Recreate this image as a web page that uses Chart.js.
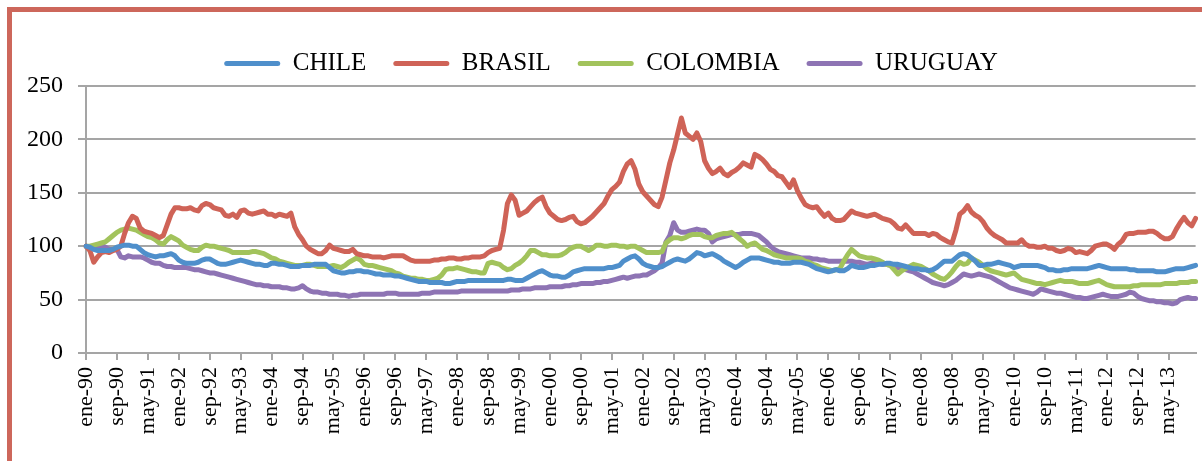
<!DOCTYPE html>
<html>
<head>
<meta charset="utf-8">
<title>Tipo de cambio real</title>
<script src="https://cdn.jsdelivr.net/npm/chart.js"></script>
<style>
  html, body { margin: 0; padding: 0; background: #fff; overflow: hidden; }
  #wrap { position: relative; width: 1202px; height: 461px; overflow: hidden; }
  #frame { position: absolute; left: 7px; top: 7px; width: 1400px; height: 600px; border: 5px solid #cd675b; box-sizing: border-box; }
  #chart { position: absolute; left: 0; top: 0; }
</style>
</head>
<body>
<div id="wrap">
  <div id="frame"></div>
  <canvas id="chart" width="1202" height="461"></canvas>
</div>
<script>
const months = ['ene', 'feb', 'mar', 'abr', 'may', 'jun', 'jul', 'ago', 'sep', 'oct', 'nov', 'dic'];
const years = ['90', '91', '92', '93', '94', '95', '96', '97', '98', '99', '00', '01',
               '02', '03', '04', '05', '06', '07', '08', '09', '10', '11', '12', '13'];
const labels = [];
years.forEach(y => months.forEach(m => labels.push(m + '-' + y)));

const yTicks = [0, 50, 100, 150, 200, 250];

// one row per year, ene..dic
const chile = [
  100, 99, 97, 96, 96, 96, 96, 97, 99, 100, 101, 101,
  100, 100, 97, 94, 92, 91, 90, 91, 91, 92, 93, 91,
  87, 85, 84, 84, 84, 85, 87, 88, 88, 86, 84, 83,
  83, 84, 85, 86, 87, 86, 85, 84, 83, 83, 82, 82,
  84, 84, 83, 83, 82, 81, 81, 81, 82, 82, 82, 83,
  83, 83, 83, 80, 77, 76, 75, 75, 76, 76, 77, 77,
  76, 76, 75, 74, 74, 73, 73, 73, 72, 72, 71, 70,
  69, 68, 67, 67, 67, 66, 66, 66, 66, 65, 65, 66,
  67, 67, 67, 68, 68, 68, 68, 68, 68, 68, 68, 68,
  68, 69, 69, 68, 68, 68, 70, 72, 74, 76, 77, 75,
  73, 72, 72, 71, 71, 73, 76, 77, 78, 79, 79, 79,
  79, 79, 79, 80, 80, 81, 82, 86, 88, 90, 91, 88,
  84, 82, 81, 80, 80, 81, 83, 85, 87, 88, 87, 86,
  88, 91, 94, 93, 91, 92, 93, 91, 89, 86, 84, 82,
  80, 82, 85, 87, 89, 89, 89, 88, 87, 86, 85, 85,
  84, 84, 84, 85, 85, 85, 84, 83, 81, 79, 78, 77,
  76, 77, 78, 77, 77, 79, 82, 81, 80, 80, 81, 82,
  82, 83, 83, 84, 84, 83, 83, 82, 81, 80, 79, 79,
  78, 78, 77, 78, 80, 83, 86, 86, 86, 89, 92, 93,
  92, 89, 86, 82, 82, 83, 83, 84, 85, 84, 83, 82,
  80, 81, 82, 82, 82, 82, 82, 81, 80, 78, 78, 77,
  77, 78, 78, 79, 79, 79, 79, 79, 80, 81, 82, 81,
  80, 79, 79, 79, 79, 79, 78, 78, 77, 77, 77, 77,
  77, 76, 76, 76, 77, 78, 79, 79, 79, 80, 81, 82
];

const brasil = [
  100, 96, 85, 90, 94, 95, 94, 96, 97, 100, 112, 122,
  128, 126, 117, 114, 113, 112, 110, 108, 110, 120, 130, 136,
  136, 135, 135, 136, 134, 133, 138, 140, 139, 136, 135, 134,
  129, 128, 130, 127, 133, 134, 131, 130, 131, 132, 133, 130,
  130, 128, 130, 129, 128, 131, 118, 111, 106, 100, 97, 95,
  93, 93, 96, 101, 98, 97, 96, 95, 95, 97, 93, 92,
  91, 91, 90, 90, 90, 89, 90, 91, 91, 91, 91, 89,
  87, 86, 86, 86, 86, 86, 87, 87, 88, 88, 89, 89,
  88, 88, 89, 89, 90, 90, 90, 91, 94, 96, 97, 98,
  115, 140, 148, 143, 129, 131, 133, 137, 141, 144, 146, 137,
  131, 128, 125, 124, 125, 127, 128, 123, 121, 122, 125, 128,
  132, 136, 140, 147, 153, 156, 160, 170, 177, 180, 172, 158,
  151, 147, 143, 139, 137, 146, 162, 178, 190, 205, 220, 206,
  203, 200, 206, 198, 180, 173, 168, 170, 173, 168, 166, 169,
  171, 174, 178, 176, 174, 186, 184, 181, 177, 172, 170, 166,
  165, 160, 155, 162, 152, 145, 139, 137, 136, 137, 132, 128,
  131, 126, 124, 124, 125, 129, 133, 131, 130, 129, 128, 129,
  130, 128, 126, 125, 124, 121, 117, 116, 120, 116, 112, 112,
  112, 112, 110, 112, 111, 108, 106, 104, 103, 115, 130, 133,
  138, 132, 129, 127, 123, 117, 113, 110, 108, 106, 103, 103,
  103, 103, 106, 102, 100, 100, 99, 99, 100, 98, 98, 96,
  95, 96, 98, 97, 94, 95, 94, 93, 96, 100, 101, 102,
  102, 100, 97, 102, 105, 111, 112, 112, 113, 113, 113, 114,
  114, 112, 109, 107, 107, 109, 116, 122, 127, 122, 119, 126
];

const colombia = [
  100, 100, 101, 102, 103, 104, 107, 110, 113, 115, 116, 117,
  116, 115, 113, 111, 109, 108, 106, 103, 102, 106, 109, 107,
  105, 101, 99, 97, 96, 96, 99, 101, 100, 100, 99, 98,
  97, 96, 94, 94, 94, 94, 94, 95, 95, 94, 93, 91,
  89, 88, 86, 85, 84, 83, 82, 82, 82, 83, 83, 82,
  81, 81, 81, 81, 82, 81, 80, 82, 85, 87, 89, 87,
  83, 82, 82, 81, 80, 79, 78, 77, 75, 74, 72, 71,
  70, 70, 69, 69, 68, 68, 69, 70, 73, 78, 79, 79,
  80, 79, 78, 77, 76, 76, 75, 75, 84, 85, 84, 83,
  80, 78, 79, 82, 84, 87, 91, 96, 96, 94, 92, 92,
  91, 91, 91, 92, 94, 97, 99, 100, 100, 98, 96, 98,
  101, 101, 100, 100, 101, 101, 100, 100, 99, 100, 100, 98,
  96, 94, 94, 94, 94, 95, 103, 106, 108, 108, 107, 108,
  110, 111, 111, 111, 109, 108, 108, 110, 111, 112, 112, 113,
  110, 107, 104, 100, 102, 103, 100, 97, 96, 94, 92, 91,
  90, 89, 89, 89, 89, 88, 86, 85, 83, 82, 80, 79,
  78, 77, 78, 79, 86, 92, 97, 94, 91, 90, 89, 89,
  88, 87, 85, 83, 82, 78, 74, 77, 79, 81, 83, 82,
  81, 79, 77, 74, 72, 70, 69, 72, 76, 81, 85, 83,
  84, 89, 87, 85, 82, 79, 77, 76, 75, 74, 73, 74,
  75, 72, 69, 68, 67, 66, 65, 65, 64, 65, 66, 67,
  68, 67, 67, 67, 66, 65, 65, 65, 66, 67, 68, 66,
  64, 63, 62, 62, 62, 62, 62, 63, 63, 64, 64, 64,
  64, 64, 64, 65, 65, 65, 65, 66, 66, 66, 67, 67
];

const uruguay = [
  100, 99, 98, 100, 101, 99, 97, 97, 97, 90, 89, 91,
  90, 90, 90, 89, 87, 85, 84, 84, 82, 81, 81, 80,
  80, 80, 80, 79, 78, 78, 77, 76, 75, 75, 74, 73,
  72, 71, 70, 69, 68, 67, 66, 65, 64, 64, 63, 63,
  62, 62, 62, 61, 61, 60, 60, 61, 63, 60, 58, 57,
  57, 56, 56, 55, 55, 55, 54, 54, 53, 54, 54, 55,
  55, 55, 55, 55, 55, 55, 56, 56, 56, 55, 55, 55,
  55, 55, 55, 56, 56, 56, 57, 57, 57, 57, 57, 57,
  57, 58, 58, 58, 58, 58, 58, 58, 58, 58, 58, 58,
  58, 58, 59, 59, 59, 60, 60, 60, 61, 61, 61, 61,
  62, 62, 62, 62, 63, 63, 64, 64, 65, 65, 65, 65,
  66, 66, 67, 67, 68, 69, 70, 71, 70, 71, 72, 72,
  73, 73, 75, 77, 80, 84, 104, 110, 122, 115, 113, 113,
  114, 115, 116, 115, 115, 112, 104, 107, 108, 109, 110, 111,
  111, 111, 112, 112, 112, 111, 110, 107, 104, 100, 97, 95,
  94, 93, 92, 91, 90, 89, 89, 89, 88, 88, 87, 87,
  86, 86, 86, 86, 86, 86, 86, 85, 85, 84, 83, 84,
  85, 84, 83, 83, 82, 81, 80, 79, 78, 77, 76, 74,
  72, 70, 68, 66, 65, 64, 63, 64, 66, 68, 71, 74,
  73, 72, 73, 74, 73, 72, 71, 69, 67, 65, 63, 61,
  60, 59, 58, 57, 56, 55, 57, 60, 59, 58, 57, 56,
  56, 55, 54, 53, 52, 52, 51, 51, 52, 53, 54, 55,
  54, 53, 53, 53, 54, 55, 57, 56, 53, 51, 50, 49,
  49, 48, 48, 47, 47, 46, 47, 50, 51, 52, 51, 51
];

const gridGray = '#a5a5a5';
const serif = '"Liberation Serif", "Times New Roman", serif';

function line(label, data, color) {
  return {
    label, data,
    borderColor: color,
    backgroundColor: color,
    borderWidth: 5,
    pointRadius: 0,
    tension: 0,
    borderJoinStyle: 'round',
    borderCapStyle: 'round',
    fill: false
  };
}

new Chart(document.getElementById('chart').getContext('2d'), {
  type: 'line',
  data: {
    labels,
    datasets: [
      line('CHILE', chile, '#4f8fcb'),
      line('BRASIL', brasil, '#cf6357'),
      line('COLOMBIA', colombia, '#a2c35c'),
      line('URUGUAY', uruguay, '#8e74b4')
    ]
  },
  options: {
    responsive: false,
    animation: false,
    devicePixelRatio: 1,
    layout: { padding: { left: 22, right: 2, top: 24, bottom: 0 } },
    plugins: {
      tooltip: { enabled: false },
      legend: {
        position: 'top',
        labels: {
          color: '#000',
          font: { family: serif, size: 25 },
          boxWidth: 56,
          boxHeight: 5,
          padding: 27,
          useBorderRadius: true,
          borderRadius: 2.5,
          generateLabels: chart => Chart.defaults.plugins.legend.labels.generateLabels(chart)
            .map(l => Object.assign(l, { lineWidth: 0, fillStyle: l.strokeStyle }))
        }
      }
    },
    scales: {
      x: {
        offset: false,
        grid: { drawOnChartArea: false, drawTicks: true, tickLength: 7, color: gridGray, lineWidth: 2 },
        border: { display: true, color: gridGray, width: 2 },
        ticks: {
          autoSkip: false,
          minRotation: 90,
          maxRotation: 90,
          padding: 7,
          color: '#000',
          font: { family: serif, size: 22 },
          callback: function (val, idx) { return idx % 8 === 0 ? this.getLabelForValue(val) : null; }
        },
        afterFit: s => { s.height = 108; }
      },
      y: {
        min: 0,
        max: 250,
        afterBuildTicks: s => { s.ticks = yTicks.map(v => ({ value: v })); },
        grid: { color: gridGray, lineWidth: 2, tickLength: 8 },
        border: { display: true, color: gridGray, width: 2 },
        ticks: { padding: 15, color: '#000', font: { family: serif, size: 24 } },
        afterFit: s => { s.width = 64; }
      }
    }
  }
});
</script>
</body>
</html>
